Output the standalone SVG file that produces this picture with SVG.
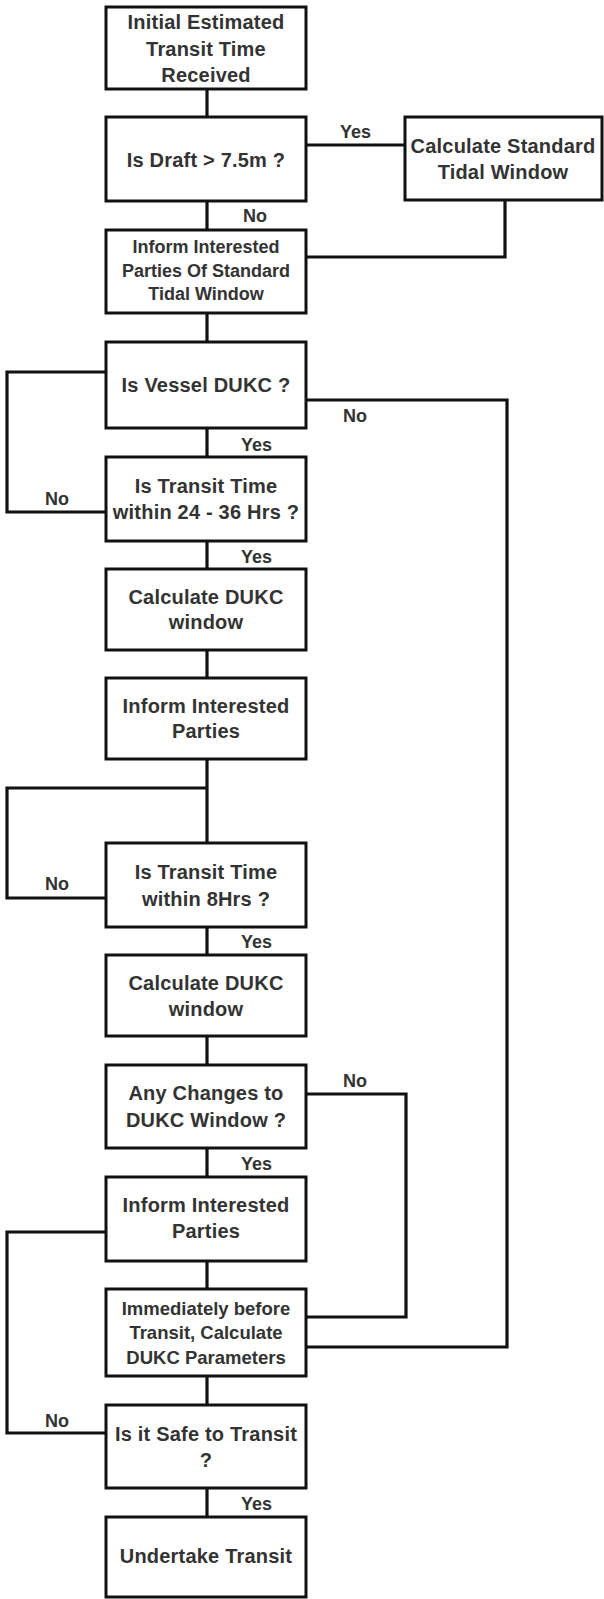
<svg xmlns="http://www.w3.org/2000/svg" width="604" height="1599" viewBox="0 0 604 1599">
<style>
.box{fill:#fff;stroke:#111;stroke-width:3}
.ln{fill:none;stroke:#111;stroke-width:3.2;stroke-linejoin:miter}
.t{font-family:"Liberation Sans",Arial,sans-serif;font-weight:bold;font-size:20px;letter-spacing:0.2px;fill:#333;text-anchor:middle}
.s{font-size:18px;letter-spacing:0}
.s2{font-size:18.5px;letter-spacing:0}
.lb{font-family:"Liberation Sans",Arial,sans-serif;font-weight:bold;font-size:18px;fill:#333}
</style>
<rect width="604" height="1599" fill="#fff"/>
<g id="connectors">
<path class="ln" d="M207 89V117"/>
<path class="ln" d="M306 145H405"/>
<path class="ln" d="M207 201V230"/>
<path class="ln" d="M505 200V257H306"/>
<path class="ln" d="M207 313V342"/>
<path class="ln" d="M106 372H7V512H106"/>
<path class="ln" d="M306 400H507V1347H306"/>
<path class="ln" d="M207 428V457"/>
<path class="ln" d="M207 541V569"/>
<path class="ln" d="M207 650V678"/>
<path class="ln" d="M207 759V843"/>
<path class="ln" d="M207 788H7V898H106"/>
<path class="ln" d="M207 927V955"/>
<path class="ln" d="M207 1036V1065"/>
<path class="ln" d="M306 1094H406V1317H306"/>
<path class="ln" d="M207 1148V1177"/>
<path class="ln" d="M207 1261V1289"/>
<path class="ln" d="M106 1232H7V1433H106"/>
<path class="ln" d="M207 1376V1405"/>
<path class="ln" d="M207 1488V1517"/>
<text class="lb" x="340" y="138">Yes</text>
<text class="lb" x="243" y="222">No</text>
<text class="lb" x="343" y="422">No</text>
<text class="lb" x="241" y="451">Yes</text>
<text class="lb" x="45" y="505">No</text>
<text class="lb" x="241" y="563">Yes</text>
<text class="lb" x="45" y="890">No</text>
<text class="lb" x="241" y="948">Yes</text>
<text class="lb" x="343" y="1087">No</text>
<text class="lb" x="241" y="1170">Yes</text>
<text class="lb" x="45" y="1427">No</text>
<text class="lb" x="241" y="1510">Yes</text>
</g>
<g id="n1"><rect class="box" x="106" y="7" width="200" height="82"/><text class="t" x="206" y="29">Initial Estimated</text><text class="t" x="206" y="56">Transit Time</text><text class="t" x="206" y="82">Received</text></g>
<g id="n2"><rect class="box" x="106" y="117" width="200" height="84"/><text class="t" x="206" y="167">Is Draft &gt; 7.5m ?</text></g>
<g id="n3"><rect class="box" x="405" y="117" width="197" height="83"/><text class="t" x="503" y="153">Calculate Standard</text><text class="t" x="503" y="179">Tidal Window</text></g>
<g id="n4"><rect class="box" x="106" y="230" width="200" height="83"/><text class="t s" x="206" y="253">Inform Interested</text><text class="t s" x="206" y="277">Parties Of Standard</text><text class="t s" x="206" y="300">Tidal Window</text></g>
<g id="n5"><rect class="box" x="106" y="342" width="200" height="86"/><text class="t" x="206" y="392">Is Vessel DUKC ?</text></g>
<g id="n6"><rect class="box" x="106" y="457" width="200" height="84"/><text class="t" x="206" y="493">Is Transit Time</text><text class="t" x="206" y="519">within 24 - 36 Hrs ?</text></g>
<g id="n7"><rect class="box" x="106" y="569" width="200" height="81"/><text class="t" x="206" y="604">Calculate DUKC</text><text class="t" x="206" y="629">window</text></g>
<g id="n8"><rect class="box" x="106" y="678" width="200" height="81"/><text class="t" x="206" y="713">Inform Interested</text><text class="t" x="206" y="738">Parties</text></g>
<g id="n9"><rect class="box" x="106" y="843" width="200" height="84"/><text class="t" x="206" y="879">Is Transit Time</text><text class="t" x="206" y="906">within 8Hrs ?</text></g>
<g id="n10"><rect class="box" x="106" y="955" width="200" height="81"/><text class="t" x="206" y="990">Calculate DUKC</text><text class="t" x="206" y="1016">window</text></g>
<g id="n11"><rect class="box" x="106" y="1065" width="200" height="83"/><text class="t" x="206" y="1100">Any Changes to</text><text class="t" x="206" y="1127">DUKC Window ?</text></g>
<g id="n12"><rect class="box" x="106" y="1177" width="200" height="84"/><text class="t" x="206" y="1212">Inform Interested</text><text class="t" x="206" y="1238">Parties</text></g>
<g id="n13"><rect class="box" x="106" y="1289" width="200" height="87"/><text class="t s2" x="206" y="1315">Immediately before</text><text class="t s2" x="206" y="1339">Transit, Calculate</text><text class="t s2" x="206" y="1364">DUKC Parameters</text></g>
<g id="n14"><rect class="box" x="106" y="1405" width="200" height="83"/><text class="t" x="206" y="1441">Is it Safe to Transit</text><text class="t" x="206" y="1467">?</text></g>
<g id="n15"><rect class="box" x="106" y="1517" width="200" height="80"/><text class="t" x="206" y="1563">Undertake Transit</text></g>
</svg>
